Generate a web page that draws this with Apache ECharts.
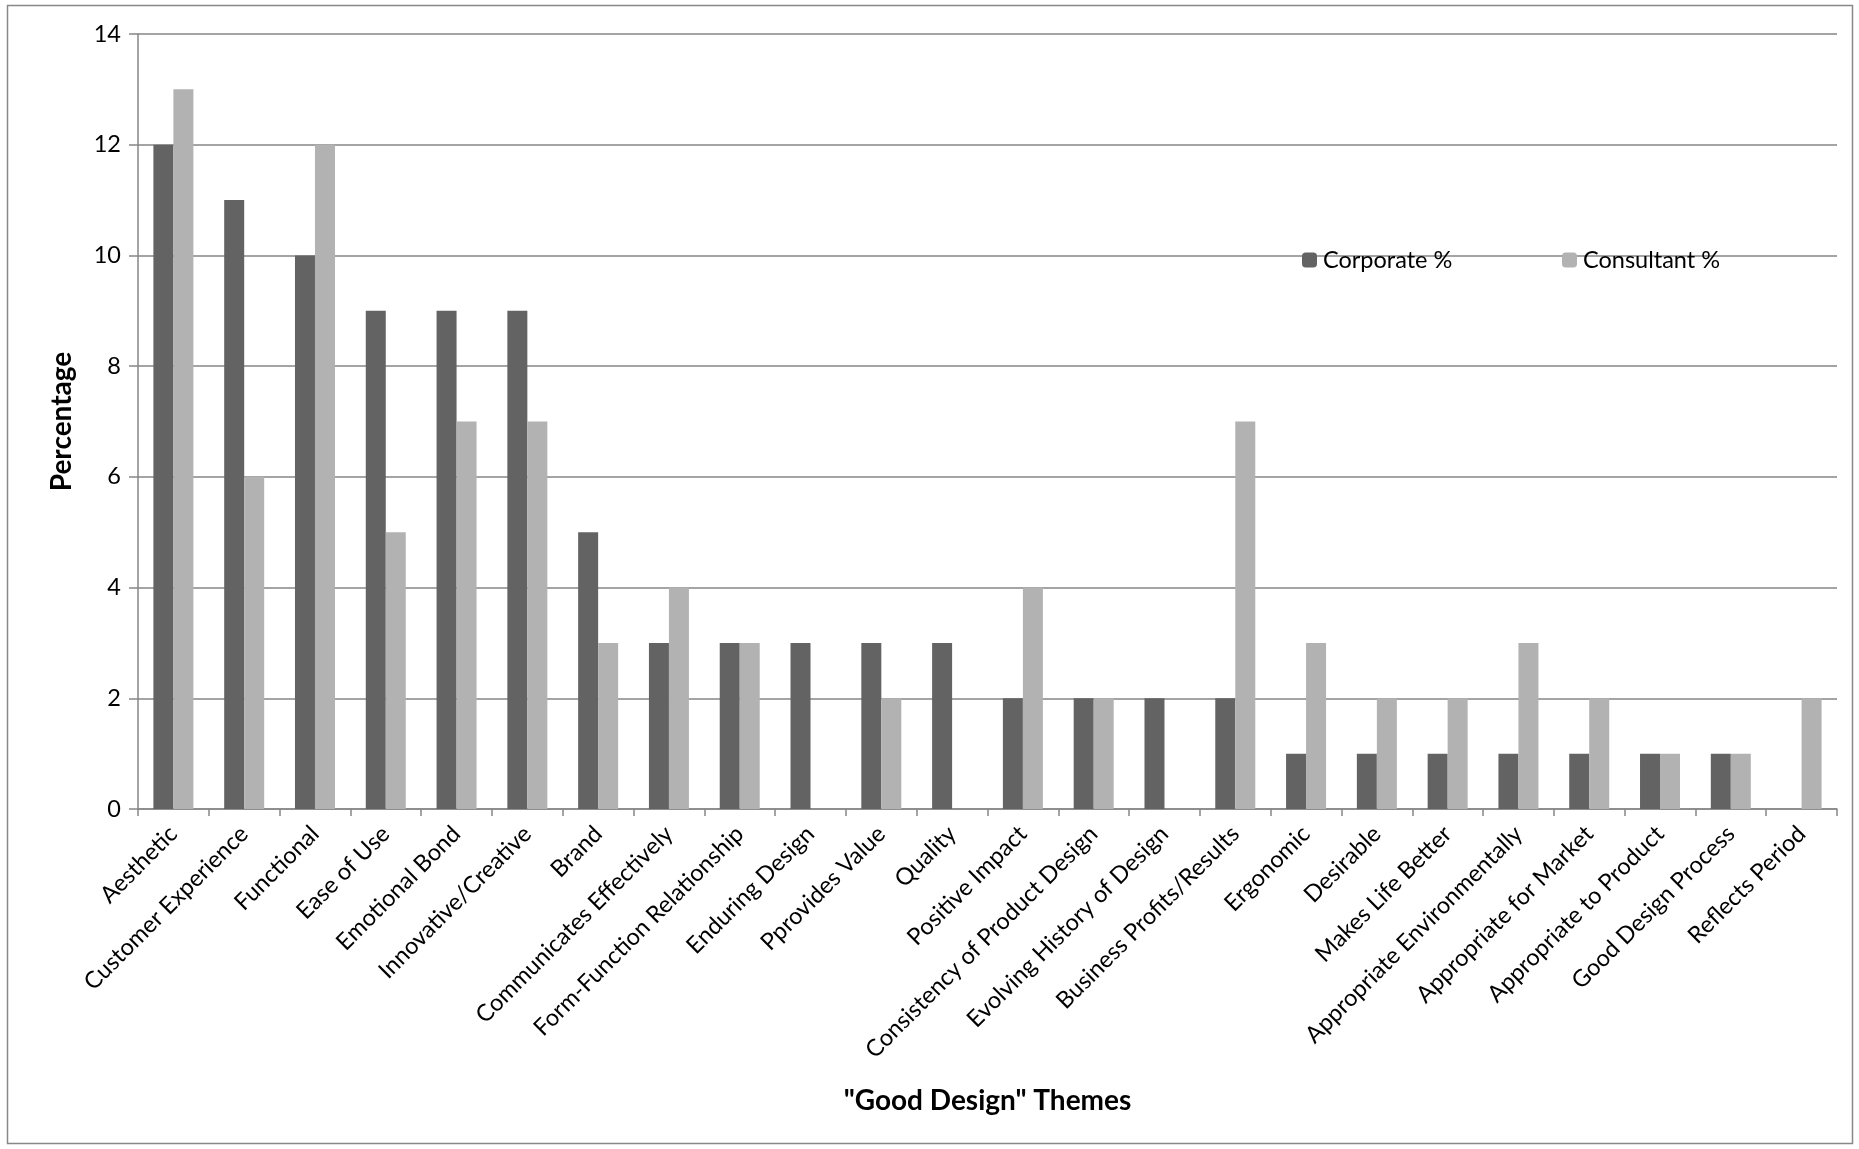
<!DOCTYPE html>
<html><head><meta charset="utf-8">
<script src="https://cdn.jsdelivr.net/npm/echarts@6/dist/echarts.min.js"></script>
<style>html,body{margin:0;padding:0;background:#fff}#c{width:1859px;height:1149px}</style>
</head><body><div id="c"></div>
<script>
const categories = ["Aesthetic","Customer Experience","Functional","Ease of Use","Emotional Bond","Innovative/Creative","Brand","Communicates Effectively","Form-Function Relationship","Enduring Design","Pprovides Value","Quality","Positive Impact","Consistency of Product Design","Evolving History of Design","Business Profits/Results","Ergonomic","Desirable","Makes Life Better","Appropriate Environmentally","Appropriate for Market","Appropriate to Product","Good Design Process","Reflects Period"];
const corporate = [12,11,10,9,9,9,5,3,3,3,3,3,2,2,2,2,1,1,1,1,1,1,1,0];
const consultant = [13,6,12,5,7,7,3,4,3,0,2,0,4,2,0,7,3,2,2,3,2,1,1,2];
const seriesNames = ["Corporate %","Consultant %"];
const yTicks = {min:0, max:14, interval:2};

const FONT = 'Lato, "Open Sans", sans-serif';
const FS = 23.5;
const chart = echarts.init(document.getElementById('c'));
chart.setOption({
  animation:false,
  backgroundColor:'#fff',
  textStyle:{fontFamily:FONT},
  grid:{left:138, right:22, top:34, bottom:340},
  legend:[
    {data:[seriesNames[0]], left:1302, top:248, padding:0, itemWidth:15, itemHeight:15, itemGap:6,
     textStyle:{fontSize:FS, color:'#000', fontFamily:FONT, padding:[0,0,0,1]}},
    {data:[seriesNames[1]], left:1562, top:248, padding:0, itemWidth:15, itemHeight:15, itemGap:6,
     textStyle:{fontSize:FS, color:'#000', fontFamily:FONT, padding:[0,0,0,1]}}
  ],
  xAxis:{
    type:'category', data:categories,
    name:'"Good Design" Themes', nameLocation:'middle', nameGap:278,
    nameTextStyle:{fontSize:28, fontWeight:'bold', color:'#000', fontFamily:FONT},
    axisLine:{lineStyle:{color:'#868686', width:1.5}},
    axisTick:{show:true, length:7, lineStyle:{color:'#868686', width:1.5}},
    axisLabel:{interval:0, rotate:45, fontSize:FS, color:'#000', margin:21, fontFamily:FONT}
  },
  yAxis:{
    type:'value', min:yTicks.min, max:yTicks.max, interval:yTicks.interval,
    name:'Percentage', nameLocation:'middle', nameGap:62,
    nameTextStyle:{fontSize:28, fontWeight:'bold', color:'#000', fontFamily:FONT},
    axisLine:{show:true, lineStyle:{color:'#868686', width:1.5}},
    axisTick:{show:true, length:9, lineStyle:{color:'#868686', width:1.5}},
    axisLabel:{fontSize:FS, color:'#000', margin:17, fontFamily:FONT},
    splitLine:{lineStyle:{color:'#868686', width:1.5}}
  },
  graphic:[{type:'rect', shape:{x:7.5, y:5.5, width:1845, height:1138}, style:{fill:'none', stroke:'#888', lineWidth:1.5}, silent:true}],
  series:[
    {name:seriesNames[0], type:'bar', data:corporate, barGap:'0%', barCategoryGap:'43.5%', itemStyle:{color:'#636363'}},
    {name:seriesNames[1], type:'bar', data:consultant, barGap:'0%', barCategoryGap:'43.5%', itemStyle:{color:'#b2b2b2'}}
  ]
});
</script></body></html>
